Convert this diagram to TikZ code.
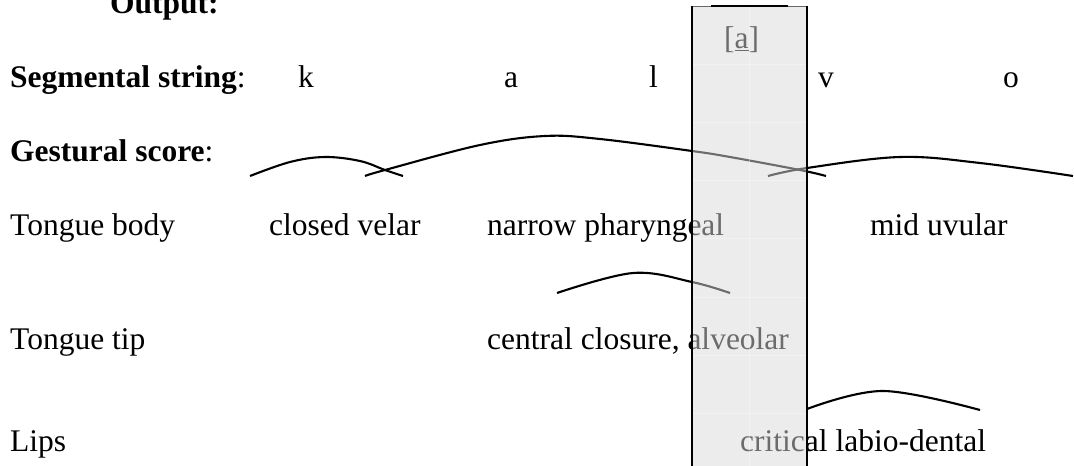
\documentclass[tikz,border=0pt]{standalone}
\usepackage{fontspec}
\setmainfont{Liberation Serif}
\begin{document}
\begin{tikzpicture}[x=1pt,y=-1pt,
  txt/.style={anchor=base west, inner sep=0pt, font=\fontsize{31.5}{38}\selectfont},
  head/.style={txt, font=\fontsize{31.5}{38}\selectfont\bfseries},
  gesture/.style={line width=2.1pt, line cap=butt},
  shade/.style={fill=black!15, fill opacity=0.5},
  frame/.style={line width=1.8pt},
  grid/.style={white, opacity=0.35, line width=0.8pt}]
\useasboundingbox (0,0) rectangle (1074,466);

% headings
\node[head] (out) at (110,13) {Output:};
\node[txt] (seg) at (10,87) {\textbf{Segmental string}:};
\node[txt] (ges) at (10,161) {\textbf{Gestural score}:};

% segmental string
\node[txt] (sk) at (298,87) {k};
\node[txt] (sa) at (504,87) {a};
\node[txt] (sl) at (649,87) {l};
\node[txt] (sv) at (818,87) {v};
\node[txt] (so) at (1003,87) {o};
\node[txt] (phone) at (724,48) {[\underline{a}]};

% articulator tiers
\node[txt] (tb) at (10,235) {Tongue body};
\node[txt] (tbk) at (269,235) {closed velar};
\node[txt] (tba) at (487,235) {narrow pharyngeal};
\node[txt] (tbo) at (870,235) {mid uvular};

\node[txt] (tt) at (10,349) {Tongue tip};
\node[txt] (ttl) at (487,349) {central closure, alveolar};

\node[txt] (lp) at (10,451) {Lips};
\node[txt] (lpv) at (740,451) {critical labio-dental};

% gestural activation curves
\draw[gesture] plot[smooth, tension=0.6] coordinates
  {(250,176) (290,162) (325,157) (360,161) (385,170) (403,176)};
\draw[gesture] plot[smooth, tension=0.6] coordinates
  {(365,176) (385,170) (480,145) (545,136) (600,139) (692,151) (730,157) (800,170) (826,176)};
\draw[gesture] plot[smooth, tension=0.6] coordinates
  {(768,176) (807,168) (900,157) (980,163) (1073,176)};
\draw[gesture] plot[smooth, tension=0.6] coordinates
  {(557,293) (633,273) (692,282) (730,293)};
\draw[gesture] plot[smooth, tension=0.6] coordinates
  {(807,409) (883,391) (980,410)};

% highlighted time slice
\fill[shade] (692,6) rectangle (807,470);
\foreach \yy in {64,122,180,238,297,355,413}
  \draw[grid] (693,\yy) -- (806,\yy);
\draw[grid] (749,7) -- (749,466);
\draw[black!60, line width=0.8pt] (692,6) -- (807,6);
\draw[line width=2pt] (711,6) -- (788,6);
\draw[frame] (692,5.5) -- (692,470);
\draw[frame] (807,5.5) -- (807,470);
\end{tikzpicture}
\end{document}
